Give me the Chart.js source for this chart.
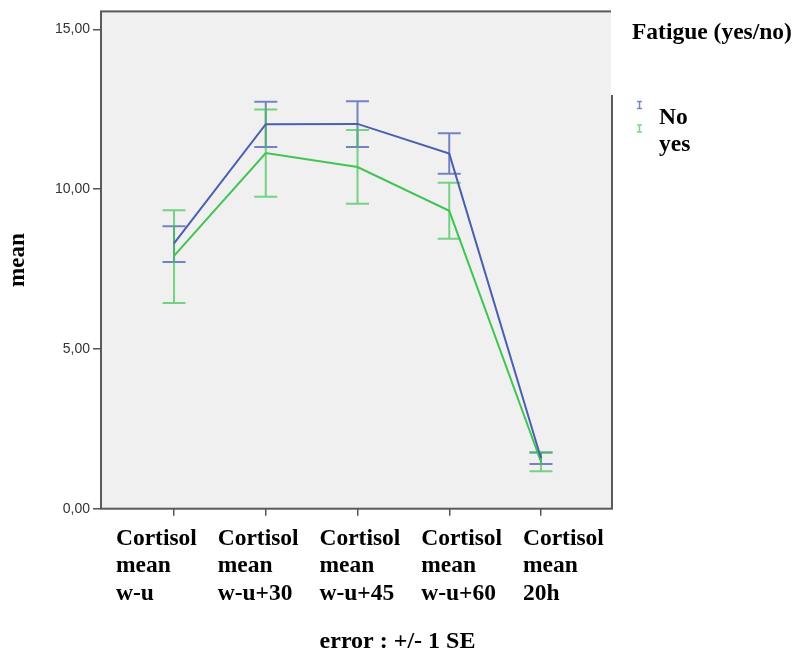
<!DOCTYPE html>
<html>
<head>
<meta charset="utf-8">
<script src="https://cdn.jsdelivr.net/npm/chart.js@4.4.3/dist/chart.umd.min.js"></script>
<style>
  html, body { margin: 0; padding: 0; background: #fff; }
</style>
</head>
<body>
<canvas id="chart" width="795" height="658"></canvas>
<script>
// categories (x tick labels, one line per array entry)
const categories = [
  ["Cortisol", "mean", "w-u"],
  ["Cortisol", "mean", "w-u+30"],
  ["Cortisol", "mean", "w-u+45"],
  ["Cortisol", "mean", "w-u+60"],
  ["Cortisol", "mean", "20h"],
];
const yTicks = [0, 5, 10, 15];

// Fatigue = No
const noMeans = [8.30, 12.03, 12.04, 11.11, 1.58];
const noLow   = [7.72, 11.32, 11.32, 10.48, 1.40];
const noHigh  = [8.84, 12.73, 12.75, 11.75, 1.76];

// Fatigue = yes
const yesMeans = [7.91, 11.13, 10.69, 9.32, 1.47];
const yesLow   = [6.44, 9.76, 9.54, 8.45, 1.17];
const yesHigh  = [9.34, 12.49, 11.85, 10.20, 1.76];

const SERIF = "'Liberation Serif', 'Times New Roman', serif";
const SANS = "'Liberation Sans', Arial, sans-serif";

const BLUE = "#4b5fb0";
const BLUE_BAR = "rgba(75,95,176,0.75)";
const GREEN = "#40c454";
const GREEN_BAR = "rgba(64,196,84,0.7)";

const toPoints = (arr) => arr.map((y, i) => ({ x: i, y }));

// plot background + frame (with the legend title box covering the top-right corner)
const framePlugin = {
  id: "frame",
  beforeDraw(chart) {
    const { ctx, chartArea: a } = chart;
    ctx.save();
    ctx.fillStyle = "#f0f0f0";
    ctx.fillRect(a.left, a.top, a.right - a.left, a.bottom - a.top);
    ctx.strokeStyle = "#5a5a5a";
    ctx.lineWidth = 2;
    ctx.strokeRect(a.left, a.top, a.right - a.left, a.bottom - a.top);
    ctx.fillStyle = "#fff";
    ctx.fillRect(a.right - 1, 0, chart.width - a.right + 1, 95);
    ctx.restore();
  },
};

// +/- 1 SE error bars, positioned through the chart scales
const errorBarPlugin = {
  id: "errorBars",
  beforeDatasetsDraw(chart) {
    const { ctx, scales } = chart;
    const x = scales.x, y = scales.y;
    ctx.save();
    chart.data.datasets.forEach((ds) => {
      ctx.strokeStyle = ds.barColor;
      ctx.lineWidth = 2;
      ds.low.forEach((lo, i) => {
        const px = x.getPixelForValue(i);
        const pLo = y.getPixelForValue(lo);
        const pHi = y.getPixelForValue(ds.high[i]);
        ctx.beginPath();
        ctx.moveTo(px, pLo); ctx.lineTo(px, pHi);
        ctx.moveTo(px - 11.5, pLo); ctx.lineTo(px + 11.5, pLo);
        ctx.moveTo(px - 11.5, pHi); ctx.lineTo(px + 11.5, pHi);
        ctx.stroke();
      });
    });
    ctx.restore();
  },
};

// SPSS-like legend on the right
const legendPlugin = {
  id: "sideLegend",
  afterDraw(chart) {
    const { ctx } = chart;
    ctx.save();
    ctx.fillStyle = "#000";
    ctx.textBaseline = "alphabetic";
    ctx.textAlign = "left";
    ctx.font = "bold 23.5px " + SERIF;
    ctx.fillText("Fatigue (yes/no)", 632, 39);
    chart.data.datasets.forEach((ds, i) => {
      const base = 124 + i * 27;
      const iy = 105 + i * 23.5;
      ctx.strokeStyle = ds.barColor;
      ctx.lineWidth = 1.5;
      ctx.beginPath();
      ctx.moveTo(639.5, iy - 3.5); ctx.lineTo(639.5, iy + 3.5);
      ctx.moveTo(637, iy - 3.5); ctx.lineTo(642, iy - 3.5);
      ctx.moveTo(637, iy + 3.5); ctx.lineTo(642, iy + 3.5);
      ctx.stroke();
      ctx.fillStyle = "#000";
      ctx.fillText(ds.label, 659, base);
    });
    ctx.restore();
  },
};

new Chart(document.getElementById("chart"), {
  type: "line",
  data: {
    datasets: [
      {
        label: "No",
        data: toPoints(noMeans),
        low: noLow,
        high: noHigh,
        borderColor: BLUE,
        barColor: BLUE_BAR,
        borderWidth: 2,
        pointRadius: 0,
        tension: 0,
      },
      {
        label: "yes",
        data: toPoints(yesMeans),
        low: yesLow,
        high: yesHigh,
        borderColor: GREEN,
        barColor: GREEN_BAR,
        borderWidth: 2,
        pointRadius: 0,
        tension: 0,
      },
    ],
  },
  options: {
    responsive: false,
    devicePixelRatio: 1,
    animation: false,
    layout: { padding: { top: 10, right: 0, left: 0, bottom: 0 } },
    plugins: {
      legend: { display: false },
      tooltip: { enabled: false },
      title: {
        display: true,
        position: "bottom",
        text: "error : +/- 1 SE",
        color: "#000",
        font: { family: SERIF, size: 24, weight: "bold" },
        padding: { top: 0, bottom: 2 },
      },
    },
    scales: {
      x: {
        type: "linear",
        position: "bottom",
        weight: 0,
        min: -0.796,
        max: 4.774,
        afterBuildTicks: (s) => { s.ticks = categories.map((_, i) => ({ value: i })); },
        afterFit: (s) => { s.height = 8; },
        ticks: { display: false },
        grid: { drawOnChartArea: false, drawTicks: true, tickLength: 7, color: "#555", lineWidth: 1.5 },
        border: { display: false },
      },
      xLabels: {
        type: "linear",
        position: "bottom",
        weight: 1,
        min: -0.147,
        max: 4.875,
        afterBuildTicks: (s) => { s.ticks = categories.map((_, i) => ({ value: i })); },
        afterFit: (s) => { s.height = 110.5; },
        ticks: {
          autoSkip: false,
          maxRotation: 0,
          align: "start",
          padding: 8,
          color: "#000",
          font: { family: SERIF, size: 23.5, weight: "bold", lineHeight: 1.18 },
          callback: (v, i) => categories[i],
        },
        grid: { display: false, drawTicks: false },
        border: { display: false },
      },
      y: {
        type: "linear",
        min: 0,
        max: 15.56,
        afterBuildTicks: (s) => { s.ticks = yTicks.map((v) => ({ value: v })); },
        afterFit: (s) => { s.width = 101; },
        ticks: {
          includeBounds: false,
          padding: 3,
          color: "#333",
          font: { family: SANS, size: 14 },
          callback: (v) => v.toFixed(2).replace(".", ","),
        },
        grid: { drawOnChartArea: false, drawTicks: true, tickLength: 8, color: "#555", lineWidth: 1.5 },
        border: { display: false },
        title: {
          display: true,
          text: "mean",
          color: "#000",
          font: { family: SERIF, size: 23, weight: "bold" },
          padding: { top: 4, bottom: 0 },
        },
      },
      // empty right-hand box that keeps room for the legend
      legendSpace: {
        type: "linear",
        position: "right",
        afterFit: (s) => { s.width = 183; },
        ticks: { display: false },
        grid: { display: false, drawTicks: false },
        border: { display: false },
      },
    },
  },
  plugins: [framePlugin, errorBarPlugin, legendPlugin],
});
</script>
</body>
</html>
